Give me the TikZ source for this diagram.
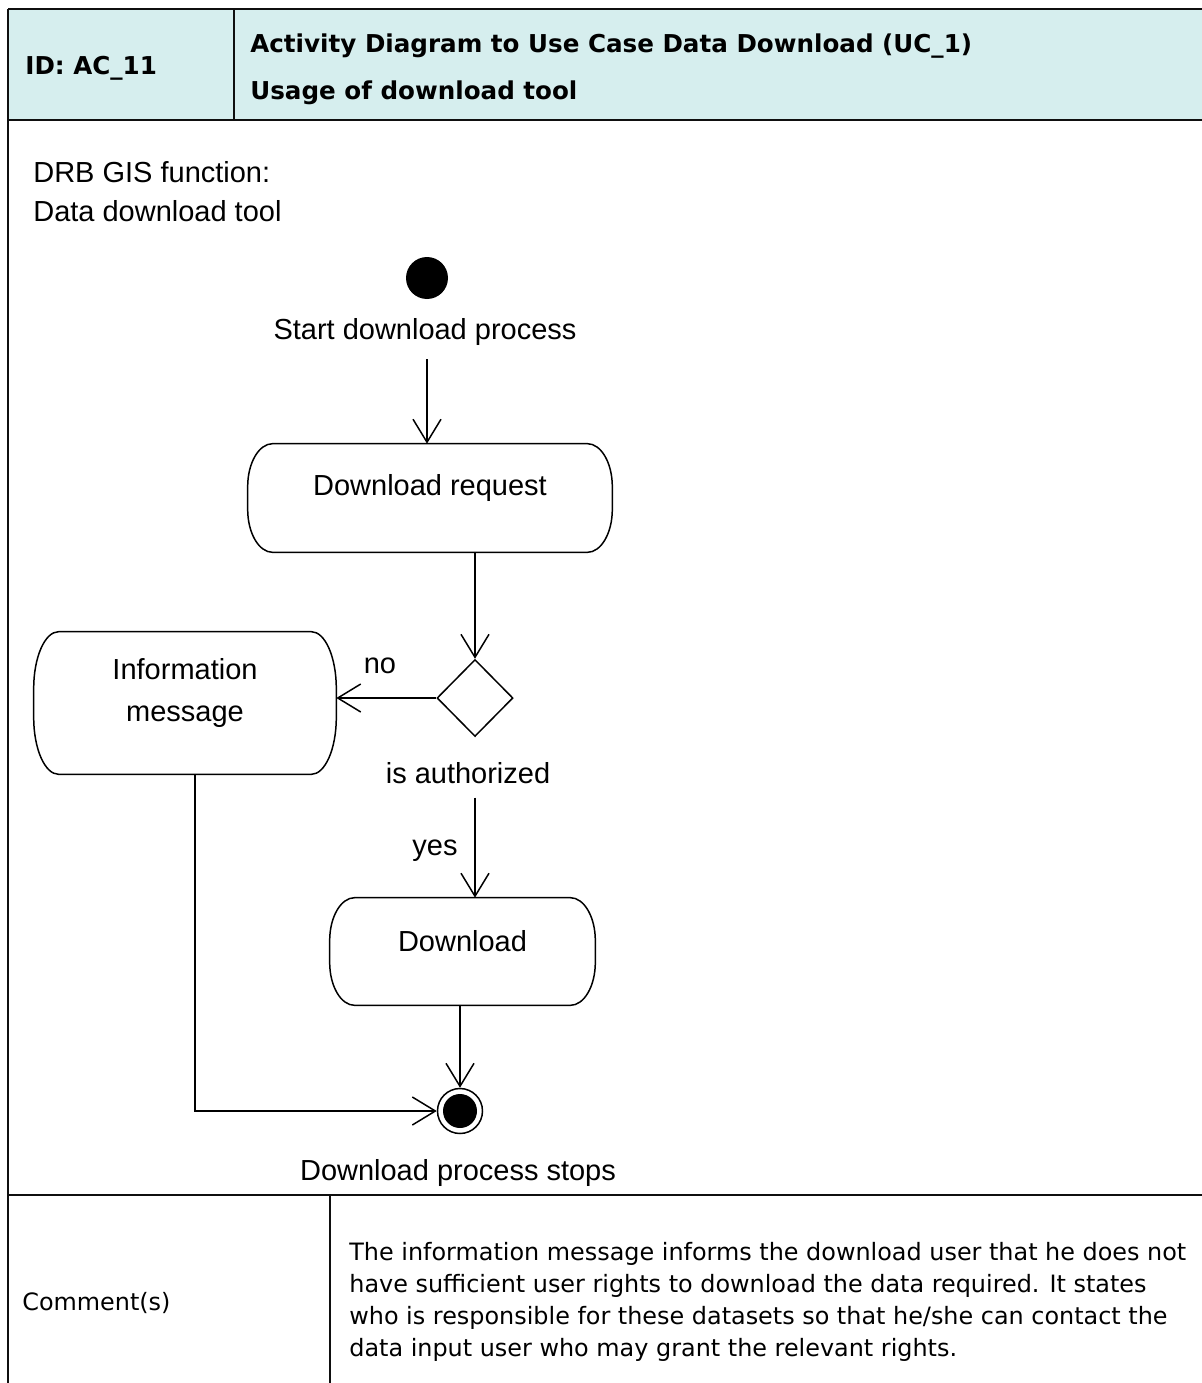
\documentclass[tikz,border=0pt]{standalone}
\usepackage{fontspec}
\setmainfont{Liberation Sans}
\newfontfamily\verdana{DejaVu Sans}
\usetikzlibrary{shapes.geometric,arrows.meta,positioning,calc}
\definecolor{headfill}{RGB}{214, 238, 238}
\definecolor{rulecolor}{RGB}{15, 15, 15}

% activity box outline: straight sides, elliptic corners
\newcommand\actionframe[2]{%
  \draw[line width=0.85pt] ([xshift=0.5cm]#1.north west) -- ([xshift=-0.5cm]#1.north east)
    arc[start angle=90, end angle=0, x radius=0.5cm, y radius=#2]
    -- ([yshift=#2]#1.south east)
    arc[start angle=0, end angle=-90, x radius=0.5cm, y radius=#2]
    -- ([xshift=0.5cm]#1.south west)
    arc[start angle=270, end angle=180, x radius=0.5cm, y radius=#2]
    -- ([yshift=-#2]#1.north west)
    arc[start angle=180, end angle=90, x radius=0.5cm, y radius=#2] -- cycle;}

\begin{document}
\begin{tikzpicture}[
  x=0.02cm, y=-0.02cm,
  >={Straight Barb[length=0.46cm,width=0.56cm]},
  flow/.style={->, line width=0.85pt},
  rule/.style={draw=rulecolor, line width=1.1pt},
  thinrule/.style={draw=rulecolor, line width=0.6pt},
  diag/.style={font=\fontsize{16.5}{20}\selectfont, inner sep=2pt},
  action/.style={rectangle, inner sep=0pt},
  boxtext/.style={font=\fontsize{16.5}{24}\selectfont, align=center, yshift=0.2cm},
  head/.style={font=\verdana\bfseries\fontsize{14}{17}\selectfont, anchor=west, inner sep=0pt},
  comment/.style={font=\verdana\fontsize{13.6}{18.2}\selectfont, anchor=west, inner sep=0pt}
]
  \useasboundingbox (0,0) rectangle (1202,1383);

  % Table frame
  \fill[headfill] (8,9) rectangle (1202,120);
  \draw[rule] (8,9) -- (1202,9);
  \draw[rule] (8,120) -- (1202,120);
  \draw[rule] (8,1195) -- (1202,1195);
  \draw[rule] (8,9) -- (8,1383);
  \draw[thinrule] (234,9) -- (234,120);
  \draw[thinrule] (330,1195) -- (330,1383);

  % Header
  \node[head] (id) at (25,68) {ID: AC\_11};
  \node[head] (title) at (250,46) {Activity Diagram to Use Case Data Download (UC\_1)};
  \node[head] (subtitle) at (250,93) {Usage of download tool};

  % Activity diagram
  \node[font=\fontsize{16.5}{22.2}\selectfont, align=left, anchor=west, inner sep=0pt] (func) at (33,192) {DRB GIS function:\\Data download tool};

  \node[circle, fill, minimum size=0.84cm, inner sep=0pt] (start) at (427,278) {};
  \node[diag] (startlbl) at (425,332) {Start download process};

  \node[action, minimum width=7.28cm, minimum height=2.16cm,
        label={[boxtext]center:Download request}] (req) at (430,498) {};
  \node[diamond, draw, line width=0.85pt, minimum width=1.52cm, minimum height=1.54cm, inner sep=0pt] (dec) at (475,698) {};
  \node[diag] (auth) at (468,773) {is authorized};
  \node[action, minimum width=6.04cm, minimum height=2.84cm,
        label={[boxtext]center:Information\\message}] (info) at (185,703) {};
  \node[action, minimum width=5.3cm, minimum height=2.14cm,
        label={[boxtext]center:Download}] (dl) at (462.5,951.5) {};

  \node[circle, draw, line width=0.85pt, minimum size=0.9cm, inner sep=0pt] (stop) at (460,1111) {};
  \fill (stop) circle[radius=0.34cm];
  \node[diag] (stoplbl) at (458,1173) {Download process stops};

  \actionframe{req}{0.86cm}
  \actionframe{info}{1.14cm}
  \actionframe{dl}{0.86cm}

  \draw[flow] ($(startlbl.south -| start)+(0,10)$) -- (start |- req.north);
  \draw[flow] (req.south -| dec) -- (dec.north);
  \draw[flow] (dec.west) -- (dec.west -| info.east);
  \node[diag] (no) at (380,666) {no};
  \draw[flow] ($(auth.south -| dec)+(0,10)$) -- (dec |- dl.north);
  \node[diag] (yes) at (435,851) {yes};
  \draw[flow] (dl.south -| stop) -- (stop.north);
  \draw[flow] ([xshift=0.2cm]info.south) |- (stop.west);

  % Comment row
  \node[comment] (commentlbl) at (22,1303) {Comment(s)};
  \node[comment, align=left] (note) at (349,1302) {The information message informs the download user that he does not\\have sufficient user rights to download the data required. It states\\who is responsible for these datasets so that he/she can contact the\\data input user who may grant the relevant rights.};
\end{tikzpicture}
\end{document}
